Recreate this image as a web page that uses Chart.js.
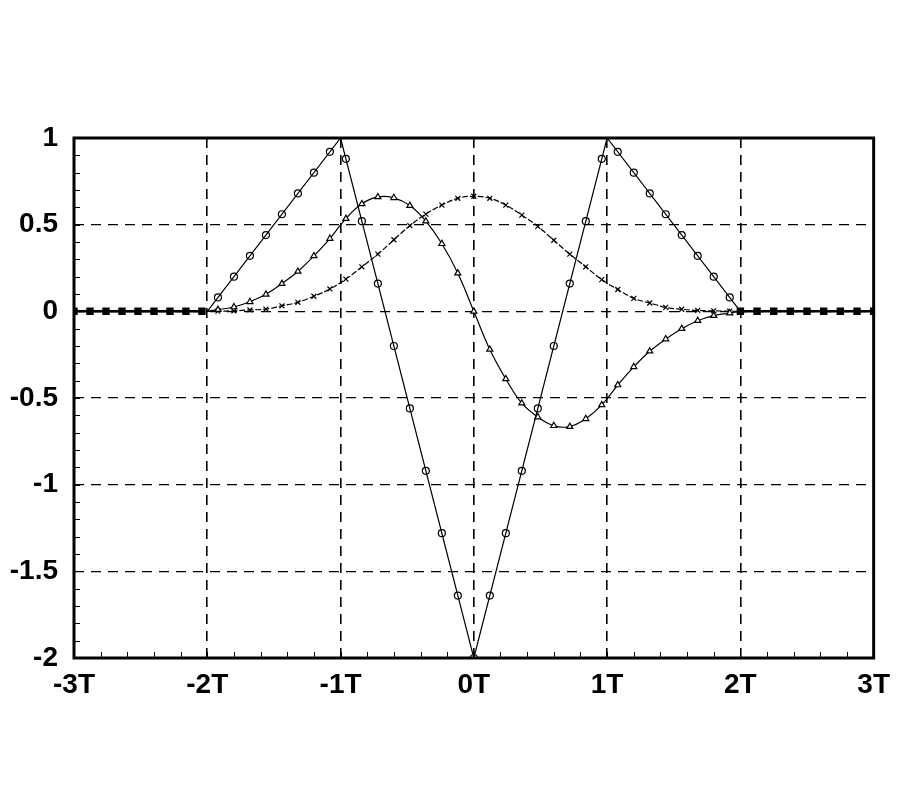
<!DOCTYPE html>
<html>
<head>
<meta charset="utf-8">
<script src="https://cdn.jsdelivr.net/npm/chart.js@4/dist/chart.umd.min.js"></script>
<style>
  body { margin: 0; background: #fff; }
  #wrap { width: 900px; height: 800px; position: relative; }
</style>
</head>
<body>
<div id="wrap"><canvas id="pulseChart"></canvas></div>
<script>
// sample positions of the markers (in units of T)
const markX = [-1.92, -1.8, -1.68, -1.56, -1.44, -1.32, -1.2, -1.08, -0.96, -0.84, -0.72,
  -0.6, -0.48, -0.36, -0.24, -0.12, 0, 0.12, 0.24, 0.36, 0.48, 0.6, 0.72, 0.84, 0.96,
  1.08, 1.2, 1.32, 1.44, 1.56, 1.68, 1.8, 1.92];

// circles: straight segments with corners
const cornerX = [-2, -1, 0, 1, 2];
const cornerY = [0, 1, -2, 1, 0];
const circleY = [0.08, 0.2, 0.32, 0.44, 0.56, 0.68, 0.8, 0.92, 0.88, 0.52, 0.16,
  -0.2, -0.56, -0.92, -1.28, -1.64, -2, -1.64, -1.28, -0.92, -0.56, -0.2, 0.16, 0.52, 0.88,
  0.92, 0.8, 0.68, 0.56, 0.44, 0.32, 0.2, 0.08];

// triangles
const triY = [0.01, 0.025, 0.055, 0.098, 0.16, 0.23, 0.32, 0.42, 0.535, 0.62, 0.66,
  0.655, 0.61, 0.52, 0.39, 0.22, 0, -0.22, -0.39, -0.53, -0.61, -0.66, -0.665, -0.62, -0.54,
  -0.425, -0.32, -0.23, -0.16, -0.1, -0.054, -0.025, -0.01];

// crosses
const crossY = [0.001, 0.003, 0.008, 0.013, 0.032, 0.052, 0.087, 0.129, 0.186, 0.257, 0.33,
  0.413, 0.494, 0.561, 0.613, 0.652, 0.664, 0.652, 0.613, 0.555, 0.49, 0.41, 0.33, 0.257, 0.183,
  0.126, 0.075, 0.048, 0.023, 0.012, 0.005, 0.003, 0.001];

// squares on the zero line outside the pulse
const sqLeftX = [-3, -2.88, -2.76, -2.64, -2.52, -2.4, -2.28, -2.16, -2.04];
const sqRightX = [2, 2.125, 2.25, 2.375, 2.5, 2.625, 2.75, 2.875, 3];

const xTickValues = [-3, -2, -1, 0, 1, 2, 3];
const yTickValues = [-2, -1.5, -1, -0.5, 0, 0.5, 1];

const pts = (xs, ys) => xs.map((x, i) => ({ x: x, y: ys[i] }));
const withEnds = (xs, ys) => [{ x: -2, y: 0 }].concat(pts(xs, ys), [{ x: 2, y: 0 }]);
const endsHidden = ctx => (ctx.dataIndex === 0 || ctx.dataIndex === ctx.dataset.data.length - 1) ? 0 : 3.5;

const frame = {
  id: 'frame',
  afterDraw(chart) {
    const { ctx, chartArea: a, scales } = chart;
    ctx.save();
    ctx.strokeStyle = '#000';
    // minor ticks
    ctx.lineWidth = 1;
    ctx.beginPath();
    for (let v = -20; v <= 10; v++) {
      const y = Math.round(scales.y.getPixelForValue(v / 10)) + 0.5;
      ctx.moveTo(a.left, y); ctx.lineTo(a.left + 6, y);
    }
    for (let v = -15; v <= 15; v++) {
      const x = Math.round(scales.x.getPixelForValue(v / 5)) + 0.5;
      ctx.moveTo(x, a.bottom); ctx.lineTo(x, a.bottom - 6);
    }
    ctx.stroke();
    ctx.lineWidth = 3;
    ctx.strokeRect(a.left, a.top, a.right - a.left, a.bottom - a.top);
    ctx.restore();
  }
};

const tickFont = { family: '"Liberation Sans", Arial, sans-serif', size: 28, weight: 'bold' };

new Chart(document.getElementById('pulseChart').getContext('2d'), {
  type: 'scatter',
  data: {
    datasets: [
      {
        label: 'circle line',
        data: pts(cornerX, cornerY),
        showLine: true, borderColor: '#000', borderWidth: 1.2, pointRadius: 0
      },
      {
        label: 'circles',
        data: pts(markX, circleY),
        showLine: false, pointStyle: 'circle', pointRadius: 3.5,
        pointBackgroundColor: '#fff', pointBorderColor: '#000', pointBorderWidth: 1.2
      },
      {
        label: 'triangles',
        data: withEnds(markX, triY),
        showLine: true, tension: 0.4, borderColor: '#000', borderWidth: 1.2,
        pointStyle: 'triangle', pointRadius: endsHidden,
        pointBackgroundColor: '#fff', pointBorderColor: '#000', pointBorderWidth: 1.2
      },
      {
        label: 'crosses',
        data: withEnds(markX, crossY),
        showLine: true, tension: 0.4, borderColor: '#000', borderWidth: 1.2,
        borderDash: [6, 2],
        pointStyle: 'crossRot', pointRadius: endsHidden,
        pointBorderColor: '#000', pointBorderWidth: 1.2
      },
      {
        label: 'zero left',
        data: sqLeftX.map(x => ({ x: x, y: 0 })),
        showLine: true, borderColor: '#000', borderWidth: 2.5,
        pointStyle: 'rect', pointRadius: 3.5,
        pointBackgroundColor: '#000', pointBorderColor: '#000'
      },
      {
        label: 'zero right',
        data: sqRightX.map(x => ({ x: x, y: 0 })),
        showLine: true, borderColor: '#000', borderWidth: 2.5,
        pointStyle: 'rect', pointRadius: 3.5,
        pointBackgroundColor: '#000', pointBorderColor: '#000'
      }
    ]
  },
  options: {
    responsive: true,
    maintainAspectRatio: false,
    animation: false,
    layout: { padding: { top: 138, right: 26, bottom: 0, left: 0 } },
    plugins: { legend: { display: false }, tooltip: { enabled: false } },
    scales: {
      x: {
        type: 'linear', min: -3, max: 3,
        afterBuildTicks: s => { s.ticks = xTickValues.map(v => ({ value: v })); },
        afterFit: s => { s.height = 142; },
        ticks: {
          color: '#000', font: tickFont, padding: 10, maxRotation: 0,
          callback: v => v + 'T'
        },
        grid: { color: '#000', lineWidth: 1.6, drawTicks: false },
        border: { display: false, dash: [10, 7] }
      },
      y: {
        type: 'linear', min: -2, max: 1,
        afterBuildTicks: s => { s.ticks = yTickValues.map(v => ({ value: v })); },
        afterFit: s => { s.width = 74; },
        ticks: { color: '#000', font: tickFont, padding: 16, callback: v => String(v) },
        grid: { color: '#000', lineWidth: 1.3, drawTicks: false },
        border: { display: false, dash: [10, 7] }
      }
    }
  },
  plugins: [frame]
});
</script>
</body>
</html>
